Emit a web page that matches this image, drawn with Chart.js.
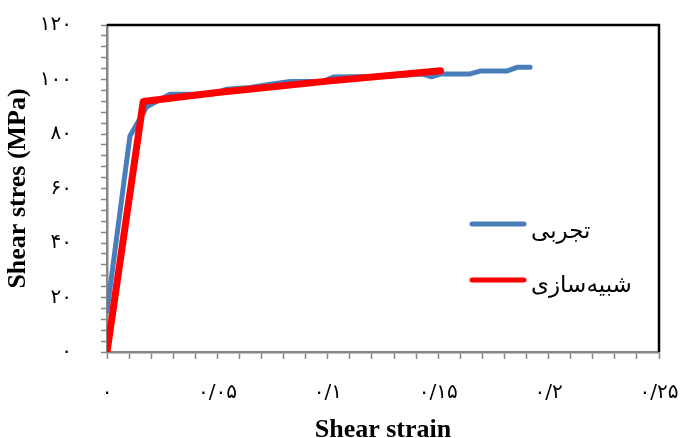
<!DOCTYPE html>
<html>
<head>
<meta charset="utf-8">
<script src="https://cdn.jsdelivr.net/npm/chart.js@4.4.3/dist/chart.umd.min.js"></script>
<style>
  body { margin: 0; background: #fff; }
  canvas { display: block; }
</style>
</head>
<body>
<canvas id="chart" width="683" height="438"></canvas>
<script>

// Experimental series (تجربی).
const expStrain = [0, 0.0104, 0.018, 0.0285, 0.048, 0.054, 0.065, 0.074, 0.083, 0.098, 0.1025, 0.128, 0.143, 0.147, 0.151, 0.164, 0.169, 0.181, 0.186, 0.1916]
const expStress = [15, 79.3, 90, 94.6, 94.7, 96.4, 97.1, 98.3, 99.3, 99.3, 100.9, 101.2, 102, 101, 102, 102, 103.1, 103.1, 104.5, 104.5]

// Simulation series (شبیه‌سازی).
const simStrain = [0, 0.0164, 0.05, 0.1, 0.151]
const simStress = [0, 91.9, 95.2, 99.4, 103.2]

// Tick labels in Persian digits.
const xTickValues = [0, 0.05, 0.1, 0.15, 0.2, 0.25]
const xTickLabels = ['۰', '۰/۰۵', '۰/۱', '۰/۱۵', '۰/۲', '۰/۲۵']
const yTickValues = [0, 20, 40, 60, 80, 100, 120]
const yTickLabels = ['۰', '۲۰', '۴۰', '۶۰', '۸۰', '۱۰۰', '۱۲۰']

const legendLabels = ['تجربی', 'شبیه‌سازی']
const colors = ['#4A7EBB', '#FF0000']

const axisGrey = '#868686'
const tickFont = { family: "'DejaVu Sans'", size: 20 }
const titleFont = { family: "'Liberation Serif', 'Times New Roman', serif", size: 26, weight: 'bold', lineHeight: 1 }

const toPoints = (xs, ys) => xs.map((x, i) => ({ x, y: ys[i] }))

// Label lookup: only major ticks get a label, minor ticks keep an empty string.
function tickLabel(values, labels, val, tol) {
  const i = values.findIndex(v => Math.abs(v - val) < tol)
  return i < 0 ? '' : labels[i]
}

// Top and right frame plus the in-plot legend.
const framePlugin = {
  id: 'frame',
  afterDraw(chart) {
    const { ctx, chartArea: a } = chart
    ctx.save()
    ctx.strokeStyle = '#000'
    ctx.lineWidth = 2.5
    ctx.beginPath()
    ctx.moveTo(a.left, a.top)
    ctx.lineTo(a.right, a.top)
    ctx.lineTo(a.right, a.bottom)
    ctx.stroke()

    const rows = [238, 292]
    const lines = [224, 280]
    legendLabels.forEach((label, i) => {
      ctx.strokeStyle = colors[i]
      ctx.lineWidth = 5
      ctx.lineCap = 'round'
      ctx.beginPath()
      ctx.moveTo(472, lines[i])
      ctx.lineTo(524, lines[i])
      ctx.stroke()

      ctx.fillStyle = '#000'
      ctx.font = "23px 'DejaVu Sans'"
      ctx.textAlign = 'left'
      ctx.textBaseline = 'alphabetic'
      ctx.fillText(label, 531, rows[i])
    })
    ctx.restore()
  }
}

new Chart(document.getElementById('chart'), {
  type: 'line',
  data: {
    datasets: [
      {
        label: legendLabels[0],
        data: toPoints(expStrain, expStress),
        borderColor: colors[0],
        borderWidth: 5,
        order: 2
      },
      {
        label: legendLabels[1],
        data: toPoints(simStrain, simStress),
        borderColor: colors[1],
        borderWidth: 7,
        order: 1
      }
    ]
  },
  options: {
    responsive: false,
    animation: false,
    devicePixelRatio: 1,
    layout: { padding: { left: 0, top: 25, right: 24, bottom: 0 } },
    elements: {
      point: { radius: 0 },
      line: { tension: 0, borderCapStyle: 'round', borderJoinStyle: 'round', fill: false }
    },
    plugins: {
      legend: { display: false },
      tooltip: { enabled: false }
    },
    scales: {
      x: {
        type: 'linear',
        min: 0,
        max: 0.25,
        // Fixed box size, no extra room for overflowing edge labels.
        afterFit: scale => {
          scale.height = 86
          scale.paddingLeft = 0
          scale.paddingRight = 0
        },
        border: { color: axisGrey, width: 2.5 },
        grid: { drawOnChartArea: false, color: axisGrey, tickLength: 7, tickWidth: 1.5 },
        ticks: {
          stepSize: 0.01,
          autoSkip: false,
          maxRotation: 0,
          padding: 22,
          color: '#000',
          font: tickFont,
          callback: val => tickLabel(xTickValues, xTickLabels, val, 1e-6)
        },
        title: {
          display: true,
          text: 'Shear strain',
          color: '#000',
          font: titleFont,
          padding: { top: 0, bottom: -5 }
        }
      },
      y: {
        min: 0,
        max: 120,
        afterFit: scale => {
          scale.width = 107
          scale.paddingTop = 0
          scale.paddingBottom = 0
        },
        border: { color: axisGrey, width: 2.5 },
        grid: { drawOnChartArea: false, color: axisGrey, tickLength: 6, tickWidth: 1.5 },
        ticks: {
          stepSize: 4,
          autoSkip: false,
          padding: 29,
          color: '#000',
          font: tickFont,
          callback: val => tickLabel(yTickValues, yTickLabels, val, 1e-6)
        },
        title: {
          display: true,
          text: 'Shear stres (MPa)',
          color: '#000',
          font: titleFont,
          padding: { top: 5, bottom: 0 }
        }
      }
    }
  },
  plugins: [framePlugin]
})
</script>
</body>
</html>
